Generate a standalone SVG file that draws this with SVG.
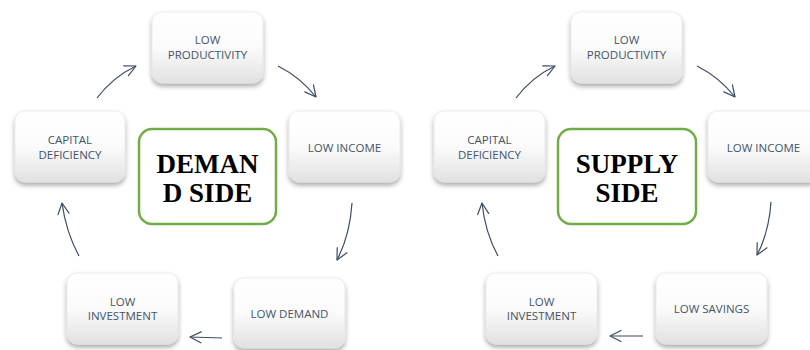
<svg xmlns="http://www.w3.org/2000/svg" width="810" height="350" viewBox="0 0 810 350">
  <defs>
    <linearGradient id="boxFill" x1="0" y1="0" x2="0" y2="1">
      <stop offset="0" stop-color="#ffffff"/>
      <stop offset="0.5" stop-color="#fbfbfb"/>
      <stop offset="1" stop-color="#e1e1e1"/>
    </linearGradient>
    <filter id="shadow" x="-20%" y="-20%" width="140%" height="150%">
      <feDropShadow dx="0" dy="3" stdDeviation="2.5" flood-color="#000000" flood-opacity="0.35"/>
    </filter>
    <marker id="openHead" markerUnits="userSpaceOnUse" markerWidth="16" markerHeight="16" viewBox="-13 -8 16 16" refX="0" refY="0" orient="auto">
      <path d="M-11,-5.5 L0,0 L-11,5.5" fill="none" stroke="#3d4b63" stroke-width="1.2" stroke-linecap="round" stroke-linejoin="round"/>
    </marker>
  </defs>
  <style>
    .box { fill: url(#boxFill); stroke: #e2e2e2; stroke-width: 0.6; filter: url(#shadow); }
    .lbl { font-family: "Open Sans", "Liberation Sans", sans-serif; font-size: 11.5px; fill: #44546a; text-anchor: middle; }
    .side { fill: #ffffff; stroke: #70ad47; stroke-width: 2.5; }
    .title { font-family: "Liberation Serif", "Times New Roman", serif; font-weight: bold; font-size: 27px; fill: #000000; text-anchor: middle; }
    .link { fill: none; stroke: #3d4b63; stroke-width: 1.2; marker-end: url(#openHead); }
  </style>

  <rect width="810" height="350" fill="#ffffff"/>

  <!-- demand side cycle -->
  <g id="d-productivity">
    <rect class="box" x="152" y="12" width="111" height="71" rx="10"/>
    <text class="lbl" x="207.5" y="44">LOW</text>
    <text class="lbl" x="207.5" y="59">PRODUCTIVITY</text>
  </g>
  <g id="d-income">
    <rect class="box" x="289" y="111" width="111" height="71" rx="10"/>
    <text class="lbl" x="344.5" y="152">LOW INCOME</text>
  </g>
  <g id="d-demand">
    <rect class="box" x="234" y="278" width="111" height="70" rx="10"/>
    <text class="lbl" x="289.5" y="318">LOW DEMAND</text>
  </g>
  <g id="d-investment">
    <rect class="box" x="67" y="273" width="111" height="71" rx="10"/>
    <text class="lbl" x="122.5" y="306">LOW</text>
    <text class="lbl" x="122.5" y="320">INVESTMENT</text>
  </g>
  <g id="d-capital">
    <rect class="box" x="15" y="111" width="110" height="71" rx="10"/>
    <text class="lbl" x="70" y="144">CAPITAL</text>
    <text class="lbl" x="70" y="159">DEFICIENCY</text>
  </g>
  <g id="d-center">
    <rect class="side" x="139" y="129" width="137" height="95" rx="13"/>
    <text class="title" x="207.5" y="173">DEMAN</text>
    <text class="title" x="207.5" y="202">D SIDE</text>
  </g>

  <!-- supply side cycle -->
  <g id="s-productivity">
    <rect class="box" x="571" y="12" width="111" height="71" rx="10"/>
    <text class="lbl" x="626.5" y="44">LOW</text>
    <text class="lbl" x="626.5" y="59">PRODUCTIVITY</text>
  </g>
  <g id="s-income">
    <rect class="box" x="708" y="111" width="111" height="71" rx="10"/>
    <text class="lbl" x="763.5" y="152">LOW INCOME</text>
  </g>
  <g id="s-savings">
    <rect class="box" x="656" y="273" width="111" height="71" rx="10"/>
    <text class="lbl" x="711.5" y="313">LOW SAVINGS</text>
  </g>
  <g id="s-investment">
    <rect class="box" x="486" y="273" width="111" height="71" rx="10"/>
    <text class="lbl" x="541.5" y="306">LOW</text>
    <text class="lbl" x="541.5" y="320">INVESTMENT</text>
  </g>
  <g id="s-capital">
    <rect class="box" x="434" y="111" width="111" height="71" rx="10"/>
    <text class="lbl" x="489.5" y="144">CAPITAL</text>
    <text class="lbl" x="489.5" y="159">DEFICIENCY</text>
  </g>
  <g id="s-center">
    <rect class="side" x="558" y="129" width="138" height="95" rx="13"/>
    <text class="title" x="627" y="173">SUPPLY</text>
    <text class="title" x="627" y="202">SIDE</text>
  </g>

  <!-- connectors -->
  <g id="connectors">
    <path class="link" d="M97,98 Q113,77 136,66"/>
    <path class="link" d="M278,66 Q300,77 316,97"/>
    <path class="link" d="M352,203 Q350,235 337,260"/>
    <path class="link" d="M222,338 L190,337"/>
    <path class="link" d="M79,256 Q66,232 62,203"/>

    <path class="link" d="M516,98 Q532,77 555,66"/>
    <path class="link" d="M697,66 Q719,77 735,97"/>
    <path class="link" d="M771,202 Q769,232 757,255"/>
    <path class="link" d="M643,336 L610,336"/>
    <path class="link" d="M498,256 Q485,232 482,203"/>
  </g>
</svg>
